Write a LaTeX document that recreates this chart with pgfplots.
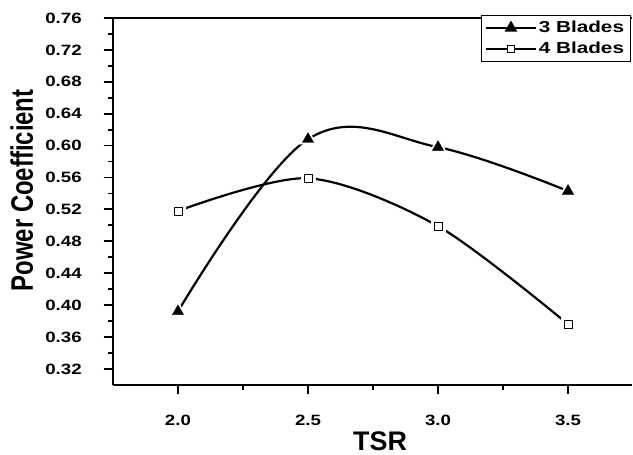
\documentclass[border=0pt]{standalone}
\usepackage{fontspec}
\setmainfont{Liberation Sans}
\newfontfamily\tickfont[FakeStretch=1.25]{Liberation Sans}
\newfontfamily\legfont[FakeStretch=1.3]{Liberation Sans}
\usepackage{graphicx}
\usepackage{pgfplots}
\pgfplotsset{compat=1.18}
\begin{document}
\begin{tikzpicture}
\begin{axis}[
  at={(0,0)}, anchor=south west,
  scale only axis, width=519bp, height=367bp,
  xmin=1.75, xmax=3.745, ymin=0.30, ymax=0.76,
  axis x line*=box, axis y line*=left,
  xtick={2,2.5,3,3.5},
  ytick={0.32,0.36,0.40,0.44,0.48,0.52,0.56,0.60,0.64,0.68,0.72,0.76},
  minor x tick num=1, minor y tick num=1,
  tick align=outside, xtick pos=bottom, ytick pos=left,
  major tick length=9bp, minor tick length=5bp,
  axis line style={-, line width=2.5bp},
  tick style={line width=1.8bp, black},
  /pgf/number format/assume math mode=true,
  ticklabel style={font=\tickfont\bfseries\fontsize{15}{15}\selectfont},
  xticklabel style={anchor=center, yshift=-27bp,
    /pgf/number format/fixed, /pgf/number format/fixed zerofill, /pgf/number format/precision=1},
  yticklabel style={anchor=center, xshift=-40.5bp,
    /pgf/number format/fixed, /pgf/number format/fixed zerofill, /pgf/number format/precision=2},
  every axis x label/.style={at={(axis description cs:0.515,-0.153)}, anchor=center},
  every axis y label/.style={at={(axis description cs:-0.176,0.53)}, rotate=90, anchor=center},
  xlabel={\fontsize{27}{27}\selectfont\bfseries TSR},
  ylabel={\scalebox{1}[1.3]{\fontsize{24}{24}\selectfont\bfseries Power Coefficient}},
  legend image code/.code={\draw[#1, mark repeat=2, mark phase=2] plot coordinates {(0bp,0bp)(25bp,0bp)(50bp,0bp)};},
  legend style={at={(axis description cs:0.709,1.008)}, anchor=north west,
    draw=black, line width=0.6bp, font=\legfont\bfseries\fontsize{16}{16}\selectfont,
    row sep=4bp, inner sep=4bp, cells={anchor=west}},
]
% 3 Blades
\addplot[black, line width=2.2bp, smooth, tension=0.62, forget plot] coordinates {(2.0,0.392)(2.5,0.608)(3.0,0.598)(3.5,0.543)};
\addplot[only marks, mark=triangle*, mark size=10bp, white, forget plot] coordinates {(2.0,0.392)(2.5,0.608)(3.0,0.598)(3.5,0.543)};
\addplot[only marks, mark=triangle*, mark size=6.5bp, black, forget plot] coordinates {(2.0,0.392)(2.5,0.608)(3.0,0.598)(3.5,0.543)};
% 4 Blades
\addplot[black, line width=2.2bp, smooth, forget plot] coordinates {(2.0,0.518)(2.5,0.559)(3.0,0.499)(3.5,0.376)};
\addplot[only marks, mark=square*, mark size=7bp, white, forget plot] coordinates {(2.0,0.518)(2.5,0.559)(3.0,0.499)(3.5,0.376)};
\addplot[only marks, mark=square*, mark size=4bp, black, mark options={fill=white, line width=0.8bp}, forget plot] coordinates {(2.0,0.518)(2.5,0.559)(3.0,0.499)(3.5,0.376)};
\addlegendimage{black, line width=1.8bp, mark=triangle*, mark size=5.5bp}
\addlegendentry{3 Blades}
\addlegendimage{black, line width=1.8bp, mark=square*, mark size=3.5bp, mark options={fill=white, line width=0.8bp}}
\addlegendentry{4 Blades}
\end{axis}
\path (-113bp,-70bp) rectangle (520bp,385bp);
\end{tikzpicture}
\end{document}
